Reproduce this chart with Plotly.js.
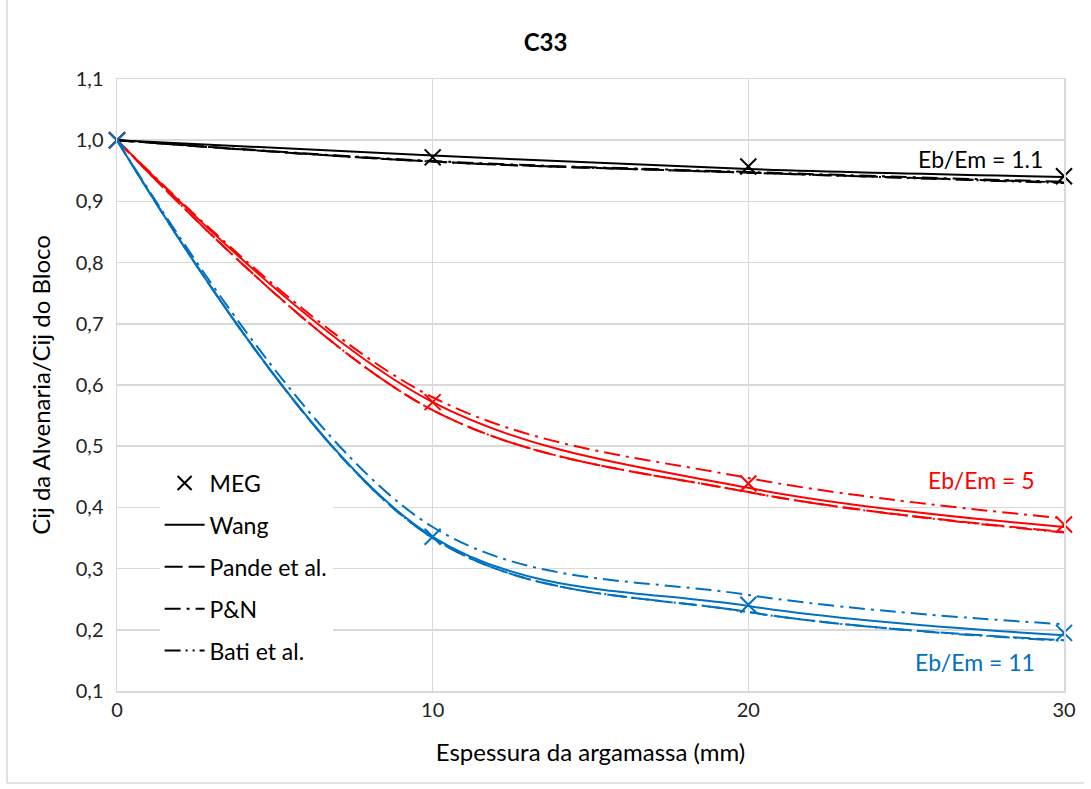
<!DOCTYPE html>
<html>
<head>
<meta charset="utf-8">
<script src="https://cdn.plot.ly/plotly-3.0.1.min.js"></script>
<style>html,body{margin:0;padding:0;background:#fff;}#chart{width:1091px;height:789px;}</style>
</head>
<body>
<div id="chart"></div>
<script>
// Espessura da argamassa (mm)
const espessura = [0, 10, 20, 30];

// Eb/Em = 1.1 (black)
const meg_1_1   = [1.0, 0.972, 0.957, 0.941];
const wang_1_1  = [1.0, 0.975, 0.953, 0.940];
const pande_1_1 = [1.0, 0.965, 0.947, 0.931];
const pn_1_1    = [1.0, 0.966, 0.948, 0.932];
const bati_1_1  = [1.0, 0.965, 0.947, 0.930];

// Eb/Em = 5 (red)
const meg_5   = [1.0, 0.572, 0.439, 0.372];
const wang_5  = [1.0, 0.572, 0.432, 0.368];
const pande_5 = [1.0, 0.559, 0.425, 0.360];
const pn_5    = [1.0, 0.580, 0.448, 0.382];
const bati_5  = [1.0, 0.559, 0.425, 0.359];

// Eb/Em = 11 (blue)
const meg_11   = [1.0, 0.352, 0.241, 0.195];
const wang_11  = [1.0, 0.352, 0.239, 0.191];
const pande_11 = [1.0, 0.350, 0.229, 0.183];
const pn_11    = [1.0, 0.368, 0.257, 0.209];
const bati_11  = [1.0, 0.350, 0.229, 0.182];

const seriesNames = ["MEG", "Wang", "Pande et al.", "P&N", "Bati et al."];
const groupLabels = ["Eb/Em = 1.1", "Eb/Em = 5", "Eb/Em = 11"];
const yTicks = [0.1, 0.2, 0.3, 0.4, 0.5, 0.6, 0.7, 0.8, 0.9, 1.0, 1.1];
const xTicks = [0, 10, 20, 30];

const dashes = {
  "Wang": "solid",
  "Pande et al.": "18px,6px",
  "P&N": "16px,6px,3px,6px",
  "Bati et al.": "16px,5px,2px,5px,2px,5px"
};

const groups = [
  {color: "#000000", data: [meg_1_1, wang_1_1, pande_1_1, pn_1_1, bati_1_1]},
  {color: "#ff0000", data: [meg_5, wang_5, pande_5, pn_5, bati_5]},
  {color: "#0070c0", data: [meg_11, wang_11, pande_11, pn_11, bati_11]}
];

const traces = [];
groups.forEach(g => {
  for (let i = 4; i >= 1; i--) {
    traces.push({
      x: espessura, y: g.data[i], type: "scatter", mode: "lines",
      line: {color: g.color, width: 2, dash: dashes[seriesNames[i]], shape: "spline", smoothing: 1},
      showlegend: false, hoverinfo: "skip"
    });
  }
  traces.push({
    x: espessura, y: g.data[0], type: "scatter", mode: "markers", cliponaxis: false,
    marker: {symbol: "x-thin-open", size: 16, color: g.color, line: {color: g.color, width: 2}},
    showlegend: false, hoverinfo: "skip"
  });
});

// legend-only entries (black)
seriesNames.forEach((n, i) => {
  if (i === 0) {
    traces.push({x: [null], y: [null], type: "scatter", mode: "markers", name: n, legendgroup: n,
      marker: {symbol: "x-thin-open", size: 14, color: "#000", line: {color: "#000", width: 2}}});
  } else {
    traces.push({x: [null], y: [null], type: "scatter", mode: "lines", name: n, legendgroup: n,
      line: {color: "#000", width: 2, dash: dashes[n]}});
  }
});

const layout = {
  width: 1091, height: 789,
  margin: {l: 117, r: 27, t: 79, b: 98},
  paper_bgcolor: "#ffffff", plot_bgcolor: "#ffffff",
  separators: ", ",
  font: {family: "Lato, 'Open Sans', sans-serif", color: "#000", size: 21},
  title: {text: "<b>C33</b>", x: 0.5, xanchor: "center", y: 1 - 43/789, yanchor: "middle", yref: "container",
          font: {family: "Lato, sans-serif", size: 24, color: "#000"}},
  xaxis: {
    range: [0, 30], tickvals: xTicks, ticktext: xTicks.map(String),
    showgrid: true, gridcolor: "#d9d9d9", gridwidth: 1.5, zeroline: false,
    showline: true, linecolor: "#d9d9d9", linewidth: 1.5, mirror: true,
    ticks: "", tickfont: {size: 20, color: "#222"},
    title: {text: "Espessura da argamassa (mm)", font: {size: 24, color: "#000"}, standoff: 24}
  },
  yaxis: {
    range: [0.1, 1.1], tickvals: yTicks, tickformat: ".1f",
    showgrid: true, gridcolor: "#d9d9d9", gridwidth: 1.5, zeroline: false,
    showline: true, linecolor: "#d9d9d9", linewidth: 1.5, mirror: true,
    ticks: "", ticklabelstandoff: 8, tickfont: {size: 20, color: "#222"},
    title: {text: "Cij da Alvenaria/Cij do Bloco", font: {size: 24, color: "#000"}, standoff: 18}
  },
  legend: {
    x: 0.045, y: 0.375, xanchor: "left", yanchor: "top",
    bgcolor: "#ffffff", borderwidth: 0,
    font: {size: 23, color: "#000"},
    traceorder: "grouped", tracegroupgap: 9, itemwidth: 40
  },
  annotations: [
    {x: 30, y: 0.969, xref: "x", yref: "y", text: groupLabels[0], showarrow: false, xanchor: "right", xshift: -19,
     font: {size: 23, color: "#000"}},
    {x: 30, y: 0.445, xref: "x", yref: "y", text: groupLabels[1], showarrow: false, xanchor: "right", xshift: -27,
     font: {size: 23, color: "#ff0000"}},
    {x: 30, y: 0.148, xref: "x", yref: "y", text: groupLabels[2], showarrow: false, xanchor: "right", xshift: -27,
     font: {size: 23, color: "#0070c0"}}
  ],
  shapes: [
    {type: "line", xref: "paper", yref: "paper", x0: -110/947, x1: -110/947, y0: -92/612, y1: 1.2, line: {color: "#d9d9d9", width: 1.5}},
    {type: "line", xref: "paper", yref: "paper", x0: -110/947, x1: 1 + 20/947, y0: -92/612, y1: -92/612, line: {color: "#d9d9d9", width: 1.5}}
  ]
};

Plotly.newPlot("chart", traces, layout, {staticPlot: true, displayModeBar: false});
</script>
</body>
</html>
